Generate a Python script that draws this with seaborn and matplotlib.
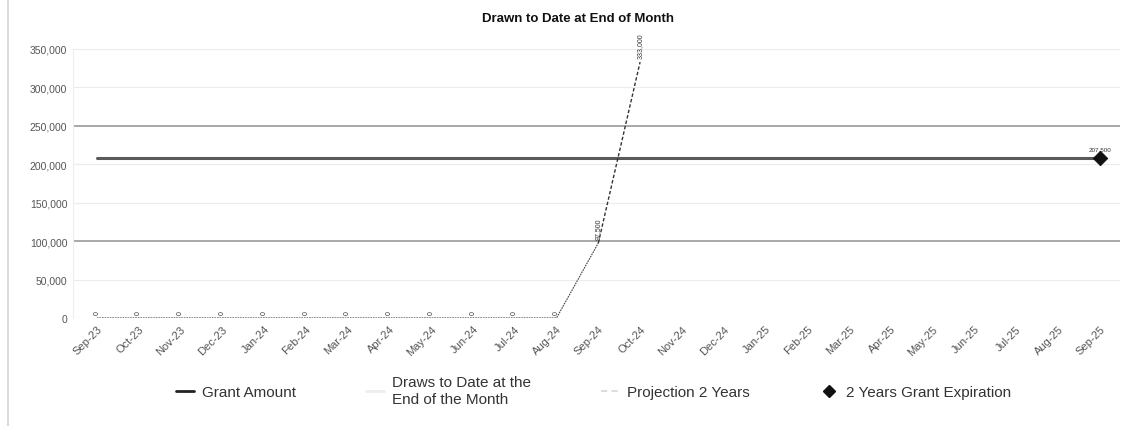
import matplotlib
matplotlib.use("Agg")
import matplotlib.pyplot as plt
from matplotlib.lines import Line2D
import seaborn as sns
import pandas as pd

# Monthly axis categories
months = ["Sep-23", "Oct-23", "Nov-23", "Dec-23", "Jan-24", "Feb-24", "Mar-24",
          "Apr-24", "May-24", "Jun-24", "Jul-24", "Aug-24", "Sep-24", "Oct-24",
          "Nov-24", "Dec-24", "Jan-25", "Feb-25", "Mar-25", "Apr-25", "May-25",
          "Jun-25", "Jul-25", "Aug-25", "Sep-25"]

# Series values
grant_amount = 207500
draws_months = months[:13]
draws_values = [0, 0, 0, 0, 0, 0, 0, 0, 0, 0, 0, 0, 97500]
projection_months = ["Sep-24", "Oct-24"]
projection_values = [97500, 333000]
expiration_month = "Sep-25"
expiration_value = 207500

y_ticks = [0, 50000, 100000, 150000, 200000, 250000, 300000, 350000]

sns.set_theme(style="white")
plt.rcParams["font.family"] = ["Liberation Sans", "DejaVu Sans"]

pos = {m: i for i, m in enumerate(months)}
grant_df = pd.DataFrame({"x": [pos[m] for m in months], "y": [grant_amount] * len(months)})
draws_df = pd.DataFrame({"x": [pos[m] for m in draws_months], "y": draws_values})
proj_df = pd.DataFrame({"x": [pos[m] for m in projection_months], "y": projection_values})
exp_df = pd.DataFrame({"x": [pos[expiration_month]], "y": [expiration_value]})

fig = plt.figure(figsize=(11.22, 4.27), dpi=100)
ax = fig.add_axes([0.065, 0.253, 0.933, 0.630])

# Gridlines
for t in y_ticks:
    strong = t in (100000, 250000)
    ax.axhline(t, color="#9a9a9a" if strong else "#ececec",
               lw=1.2 if strong else 0.8, zorder=0)

sns.lineplot(data=grant_df, x="x", y="y", ax=ax, color="#5a5a5a", lw=2.2, zorder=3)
sns.lineplot(data=draws_df, x="x", y="y", ax=ax, color="#444444", lw=0.8,
             linestyle=(0, (1.5, 0.8)), zorder=4)
sns.lineplot(data=proj_df, x="x", y="y", ax=ax, color="#333333", lw=1.0,
             linestyle=(0, (2.5, 1.5)), zorder=4)
sns.scatterplot(data=exp_df, x="x", y="y", ax=ax, marker="D", s=55,
                color="#111111", edgecolor="#111111", zorder=5)

# Value annotations
for x, v in zip(draws_df["x"], draws_df["y"]):
    ax.annotate(f"{v:,.0f}", (x, v), xytext=(0, 3), textcoords="offset points",
                rotation=90, ha="center", va="bottom", fontsize=5, color="#333333")
ax.annotate(f"{projection_values[-1]:,.0f}", (pos[projection_months[-1]], projection_values[-1]),
            xytext=(0, 3), textcoords="offset points", rotation=90,
            ha="center", va="bottom", fontsize=5, color="#333333")
ax.annotate(f"{expiration_value:,.0f}", (pos[expiration_month], expiration_value),
            xytext=(0, 5), textcoords="offset points",
            ha="center", va="bottom", fontsize=4.5, color="#333333")

ax.set_xlim(-0.574, 24.48)
ax.set_ylim(0, 350000)
ax.set_yticks(y_ticks)
ax.set_yticklabels([f"{t:,}" for t in y_ticks], fontsize=7.5, color="#555555")
ax.set_xticks(range(len(months)))
ax.set_xticklabels(months, rotation=45, ha="right", rotation_mode="anchor",
                   fontsize=8, color="#555555")
ax.tick_params(axis="both", length=0, pad=4)
ax.set_xlabel("")
ax.set_ylabel("")
for side in ["top", "right", "bottom"]:
    ax.spines[side].set_visible(False)
ax.spines["left"].set_color("#eeeeee")
ax.spines["left"].set_linewidth(0.8)

fig.text(0.515, 0.956, "Drawn to Date at End of Month", ha="center", va="center",
         fontsize=9.5, fontweight="bold", color="#111111")

# Left frame line
fig.add_artist(Line2D([0.0075, 0.0075], [0.0, 1.0], color="#d4d4d4", lw=1.2))

handles = [
    Line2D([], [], color="#222222", lw=2),
    Line2D([], [], color="#eeeeee", lw=2),
    Line2D([], [], color="#dddddd", lw=1.5, linestyle=(0, (3, 2))),
    Line2D([], [], color="#111111", marker="D", linestyle="none", markersize=6),
]
labels = ["Grant Amount", "Draws to Date at the\nEnd of the Month",
          "Projection 2 Years", "2 Years Grant Expiration"]
fig.legend(handles, labels, loc="center", bbox_to_anchor=(0.529, 0.083), ncol=4,
           frameon=False, fontsize=11, handlelength=1.2, handletextpad=0.5,
           columnspacing=4.6, labelcolor="#333333")

fig.savefig("out.png", dpi=100)
